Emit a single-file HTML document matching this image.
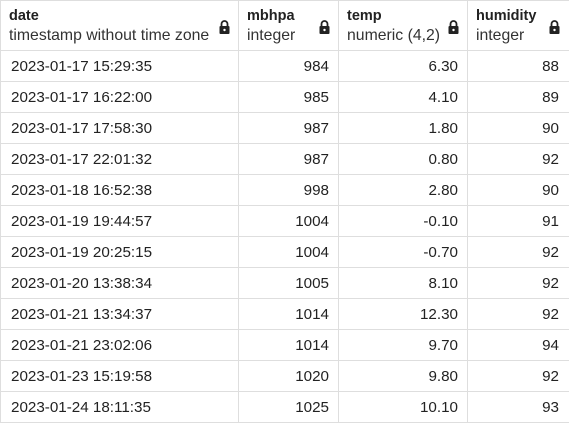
<!DOCTYPE html>
<html><head><meta charset="utf-8">
<style>
html,body{margin:0;padding:0;background:#fff;}
body{width:569px;height:424px;overflow:hidden;font-family:"Liberation Sans",sans-serif;color:#222;}
table{border-collapse:collapse;table-layout:fixed;width:570px;}
td,th{border:1px solid #dedede;padding:0;overflow:hidden;white-space:nowrap;}
th{height:49px;text-align:left;font-weight:normal;position:relative;vertical-align:top;}
th .n{font-weight:bold;font-size:14.5px;display:block;margin-top:7px;color:#222;}
th .t{font-size:15.8px;display:block;margin-top:3px;color:#333;}
th .lk{position:absolute;right:8px;top:19px;}
td{height:30px;font-size:15.2px;}
td.d{padding-left:10px;}
td.r{text-align:right;padding-right:9px;}
th.c1{padding-left:8px;}
th.c{padding-left:8px;}
</style></head><body>
<table>
<colgroup><col style="width:238px"><col style="width:100px"><col style="width:129px"><col style="width:103px"></colgroup>
<thead><tr>
<th class="c1"><span class="n">date</span><span class="t">timestamp without time zone</span><svg class="lk" width="11" height="14" viewBox="0 0 11 14"><path d="M2.5 6V4a3 3 0 0 1 6 0v2" stroke="#222" stroke-width="1.8" fill="none"/><rect x="0.5" y="6" width="10" height="8" rx="1" fill="#222"/><circle cx="5.5" cy="10" r="1.2" fill="#fff"/></svg></th>
<th class="c"><span class="n">mbhpa</span><span class="t">integer</span><svg class="lk" width="11" height="14" viewBox="0 0 11 14"><path d="M2.5 6V4a3 3 0 0 1 6 0v2" stroke="#222" stroke-width="1.8" fill="none"/><rect x="0.5" y="6" width="10" height="8" rx="1" fill="#222"/><circle cx="5.5" cy="10" r="1.2" fill="#fff"/></svg></th>
<th class="c"><span class="n">temp</span><span class="t">numeric (4,2)</span><svg class="lk" width="11" height="14" viewBox="0 0 11 14"><path d="M2.5 6V4a3 3 0 0 1 6 0v2" stroke="#222" stroke-width="1.8" fill="none"/><rect x="0.5" y="6" width="10" height="8" rx="1" fill="#222"/><circle cx="5.5" cy="10" r="1.2" fill="#fff"/></svg></th>
<th class="c"><span class="n">humidity</span><span class="t">integer</span><svg class="lk" width="11" height="14" viewBox="0 0 11 14" style="right:10px"><path d="M2.5 6V4a3 3 0 0 1 6 0v2" stroke="#222" stroke-width="1.8" fill="none"/><rect x="0.5" y="6" width="10" height="8" rx="1" fill="#222"/><circle cx="5.5" cy="10" r="1.2" fill="#fff"/></svg></th>
</tr></thead>
<tbody>
<tr><td class="d">2023-01-17 15:29:35</td><td class="r">984</td><td class="r">6.30</td><td class="r" style="padding-right:11px">88</td></tr>
<tr><td class="d">2023-01-17 16:22:00</td><td class="r">985</td><td class="r">4.10</td><td class="r" style="padding-right:11px">89</td></tr>
<tr><td class="d">2023-01-17 17:58:30</td><td class="r">987</td><td class="r">1.80</td><td class="r" style="padding-right:11px">90</td></tr>
<tr><td class="d">2023-01-17 22:01:32</td><td class="r">987</td><td class="r">0.80</td><td class="r" style="padding-right:11px">92</td></tr>
<tr><td class="d">2023-01-18 16:52:38</td><td class="r">998</td><td class="r">2.80</td><td class="r" style="padding-right:11px">90</td></tr>
<tr><td class="d">2023-01-19 19:44:57</td><td class="r">1004</td><td class="r">-0.10</td><td class="r" style="padding-right:11px">91</td></tr>
<tr><td class="d">2023-01-19 20:25:15</td><td class="r">1004</td><td class="r">-0.70</td><td class="r" style="padding-right:11px">92</td></tr>
<tr><td class="d">2023-01-20 13:38:34</td><td class="r">1005</td><td class="r">8.10</td><td class="r" style="padding-right:11px">92</td></tr>
<tr><td class="d">2023-01-21 13:34:37</td><td class="r">1014</td><td class="r">12.30</td><td class="r" style="padding-right:11px">92</td></tr>
<tr><td class="d">2023-01-21 23:02:06</td><td class="r">1014</td><td class="r">9.70</td><td class="r" style="padding-right:11px">94</td></tr>
<tr><td class="d">2023-01-23 15:19:58</td><td class="r">1020</td><td class="r">9.80</td><td class="r" style="padding-right:11px">92</td></tr>
<tr><td class="d">2023-01-24 18:11:35</td><td class="r">1025</td><td class="r">10.10</td><td class="r" style="padding-right:11px">93</td></tr>
</tbody></table>
</body></html>
